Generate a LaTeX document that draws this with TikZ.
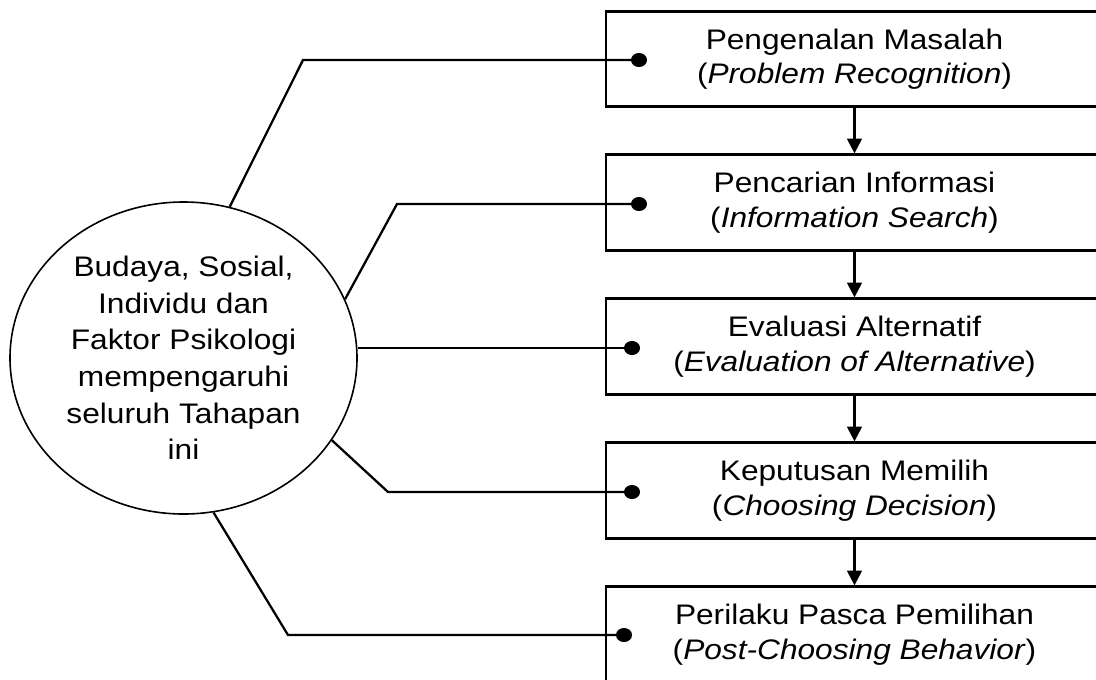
\documentclass[tikz,border=0pt]{standalone}
\usepackage{fontspec}
\setmainfont[FakeStretch=1.12]{Liberation Sans}
\usetikzlibrary{shapes.geometric,arrows.meta,calc}

\begin{document}
\begin{tikzpicture}[x=0.75pt,y=-0.75pt,
  stage/.style={draw,line width=2.1pt,minimum width=372.75pt,minimum height=71.6pt,
    inner sep=0pt,align=center,font=\fontsize{21.2}{25.8}\selectfont},
  factors/.style={draw,ellipse,line width=1.2pt,minimum width=260.25pt,minimum height=234pt,
    inner sep=0pt,align=center,font=\fontsize{21.2}{27.5}\selectfont},
  flow/.style={line width=1.7pt,-{Triangle[length=11pt,width=11pt]}},
  link/.style={line width=1.7pt,line join=miter,-{Circle[length=12pt,width=10.5pt]}}]

\useasboundingbox (0,0) rectangle (1096,679);
\clip (0,0) rectangle (1096,679);

% process stages
\node[stage] (b1) at (854.5,59)    {Pengenalan Masalah\\(\textit{Problem Recognition})};
\node[stage] (b2) at (854.5,202.5) {Pencarian Informasi\\(\textit{Information Search})};
\node[stage] (b3) at (854.5,346.5) {Evaluasi Alternatif\\(\textit{Evaluation of Alternative})};
\node[stage] (b4) at (854.5,490.5) {Keputusan Memilih\\(\textit{Choosing Decision})};
\node[stage] (b5) at (854.5,634.5) {Perilaku Pasca Pemilihan\\(\textit{Post-Choosing Behavior})};

\draw[flow] (b1.south) -- (b2.north);
\draw[flow] (b2.south) -- (b3.north);
\draw[flow] (b3.south) -- (b4.north);
\draw[flow] (b4.south) -- (b5.north);

% influencing factors
\node[factors] (ell) at (183.5,358) {Budaya, Sosial,\\Individu dan\\Faktor Psikologi\\mempengaruhi\\seluruh Tahapan\\ini};

% bends and dot ends of the influence lines
\coordinate (k1) at (303,60);
\coordinate (k2) at (397,204);
\coordinate (k4) at (388,492);
\coordinate (k5) at (288,635);
\coordinate (e1) at (647,60);
\coordinate (e2) at (647,204);
\coordinate (e3) at (640,348);
\coordinate (e4) at (640,492);
\coordinate (e5) at (632,635);

\draw[link] (ell.73.8) -- (k1) -- (e1);
\draw[link] (ell.20.5) -- (k2) -- (e2);
\draw[link] (e3 -| ell.east) -- (e3);
\draw[link] (ell.-29.3) -- (k4) -- (e4);
\draw[link] (ell.-79) -- (k5) -- (e5);
\end{tikzpicture}
\end{document}
